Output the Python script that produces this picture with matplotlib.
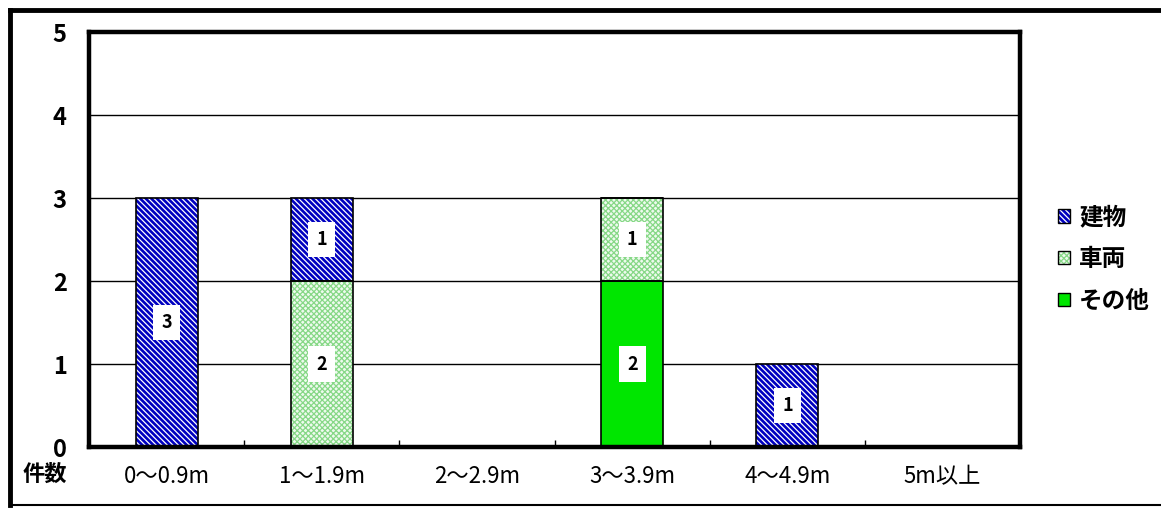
import numpy as np
import matplotlib.pyplot as plt
from matplotlib.lines import Line2D
from matplotlib.patches import Patch

plt.rcParams['font.family'] = ['Noto Sans CJK JP', 'DejaVu Sans']
plt.rcParams['hatch.linewidth'] = 0.9

categories = ["0〜0.9m", "1〜1.9m", "2〜2.9m", "3〜3.9m", "4〜4.9m", "5m以上"]
sonota = [0, 0, 0, 2, 0, 0]
sharyo = [0, 2, 0, 1, 0, 0]
tatemono = [3, 1, 0, 0, 1, 0]

fig = plt.figure(figsize=(11.61, 5.08), dpi=100)
ax = fig.add_axes([0.0767, 0.120, 0.802, 0.817])

x = np.arange(len(categories))
w = 0.4

styles = {
    "その他": dict(facecolor="#00e600", hatch=None, hatchcolor=None),
    "車両": dict(facecolor="#eefaee", hatch="xxxxxx", hatchcolor="#86d886"),
    "建物": dict(facecolor="#0000c0", hatch="\\\\\\\\\\\\", hatchcolor="white"),
}
series = [("その他", sonota), ("車両", sharyo), ("建物", tatemono)]

bottom = np.zeros(len(categories))
for name, vals in series:
    st = styles[name]
    vals = np.array(vals, dtype=float)
    if st["hatch"]:
        ax.bar(x, vals, w, bottom=bottom, color=st["facecolor"], hatch=st["hatch"],
               edgecolor=st["hatchcolor"], linewidth=0, zorder=2)
    else:
        ax.bar(x, vals, w, bottom=bottom, color=st["facecolor"], linewidth=0, zorder=2)
    ax.bar(x, vals, w, bottom=bottom, fill=False, edgecolor="black", linewidth=1.2, zorder=3)
    for xi, v, b in zip(x, vals, bottom):
        if v > 0:
            ax.text(xi, b + v / 2, str(int(v)), ha="center", va="center", fontsize=13,
                    fontweight="bold", zorder=4,
                    bbox=dict(boxstyle="square,pad=0.45", facecolor="white", edgecolor="none"))
    bottom += vals

ax.set_xlim(-0.5, len(categories) - 0.5)
ax.set_ylim(0, 5)
ax.set_yticks(range(6))
ax.yaxis.grid(True, color="black", linewidth=1.0, zorder=1)
ax.set_axisbelow(True)
for s in ax.spines.values():
    s.set_linewidth(3.2)
ax.tick_params(axis="y", length=0, pad=16, labelsize=17)
for t in ax.get_yticklabels():
    t.set_fontweight("bold")

ax.set_xticks(x)
ax.set_xticklabels(categories, fontsize=16)
ax.tick_params(axis="x", length=0, pad=13)
ax.set_xticks(x[:-1] + 0.5, minor=True)
ax.tick_params(axis="x", which="minor", direction="in", length=5, width=1)

fig.text(45 / 1161, 1 - 474 / 508, "件数", ha="center", va="center",
         fontsize=16, fontweight="bold")

# legend
leg_handles = []
leg_labels = []
for name in ["建物", "車両", "その他"]:
    st = styles[name]
    if st["hatch"]:
        fillp = Patch(facecolor=st["facecolor"], hatch=st["hatch"], edgecolor=st["hatchcolor"], linewidth=0)
    else:
        fillp = Patch(facecolor=st["facecolor"], linewidth=0)
    leg_handles.append((fillp, Patch(fill=False, edgecolor="black", linewidth=1.0)))
    leg_labels.append(name)
fig.legend(leg_handles, leg_labels, loc="center left", bbox_to_anchor=(0.893, 0.49),
           frameon=False, handlelength=0.5, handleheight=0.5,
           handletextpad=0.4, labelspacing=0.75, prop=dict(weight="bold", size=17))

# outer border
fig.add_artist(Line2D([0.009, 1.0], [0.981, 0.981], color="black", linewidth=3.5))
fig.add_artist(Line2D([0.009, 0.009], [0.981, 0.006], color="black", linewidth=3.5))
fig.add_artist(Line2D([0.009, 1.0], [0.006, 0.006], color="black", linewidth=1.5))

fig.savefig("out.png", dpi=100)
